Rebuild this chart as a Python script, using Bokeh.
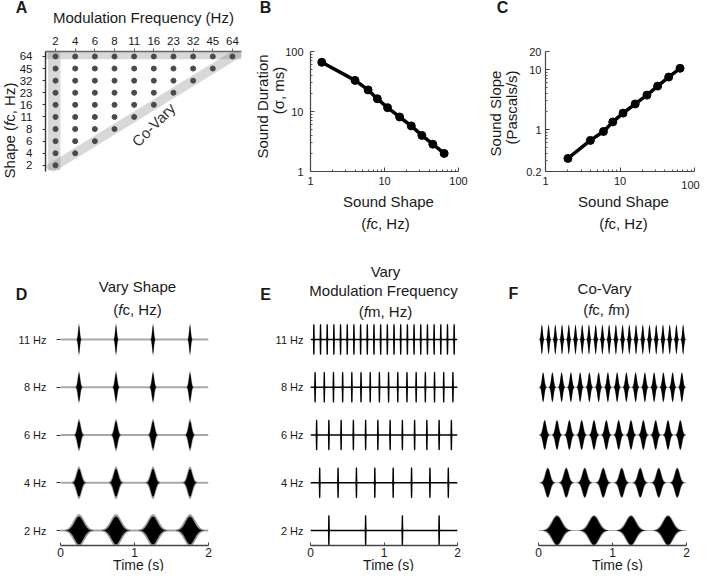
import numpy as np
from bokeh.plotting import figure
from bokeh.models import Label, Range1d, FixedTicker, CustomJSTickFormatter, GridBox
from bokeh.layouts import row
from bokeh.embed import file_html
from bokeh.resources import INLINE

FONT = "Liberation Sans"
TXT = "#1a1a1a"
CW, CH = 700, 571   # canvas size
DX, DY = 7, 7       # reference pixel -> canvas pixel offset

# ---------------- data ----------------
# Panel A: stimulus grid
mod_freqs = [2, 4, 6, 8, 11, 16, 23, 32, 45, 64]
shape_freqs = [2, 4, 6, 8, 11, 16, 23, 32, 45, 64]

# Panel B: sound duration vs sound shape
b_shape = [1.42, 4, 6, 8, 11, 16, 23, 32, 45, 64]
b_duration = [66, 33, 22.9, 16.3, 11.6, 8.1, 5.75, 4.0, 2.85, 2.0]

# Panel C: sound slope vs sound shape
c_shape = [2, 4, 6, 8, 11, 16, 23, 32, 45, 64]
c_slope = [0.33, 0.66, 0.93, 1.34, 1.88, 2.67, 3.75, 5.3, 7.5, 10.5]

# Panels D-F: example stimuli
row_freqs = [2, 4, 6, 8, 11]
row_labels = ["2 Hz", "4 Hz", "6 Hz", "8 Hz", "11 Hz"]
row_sigma_ms = [66, 33, 22.9, 16.3, 11.6]   # envelope width for each shape
fixed_fm = 2          # D: modulation frequency held at 2 Hz
fixed_sigma_ms = 2.0  # E: shape held at 64 Hz
time_ticks = [0, 1, 2]

# ---------------- helpers ----------------
W = {' ': 278, '(': 333, ')': 333, ',': 278, '-': 333, '/': 278, '.': 278,
     'A': 667, 'C': 722, 'D': 722, 'F': 611, 'H': 722, 'M': 833, 'P': 667,
     'S': 667, 'T': 611, 'V': 667, 'a': 556, 'c': 500, 'd': 556, 'e': 556,
     'f': 278, 'h': 556, 'i': 222, 'l': 222, 'm': 833, 'n': 556, 'o': 556,
     'p': 556, 'q': 556, 'r': 333, 's': 500, 't': 278, 'u': 556, 'y': 500,
     'z': 500}


def tw(s, size):
    return sum(W.get(ch, 556) for ch in s) * size / 1000.0


def make_fig(fig_left, fig_top, w, h, fl, fr, ft, fb, **kw):
    p = figure(width=w, height=h,
               min_border_left=fl - fig_left, min_border_right=fig_left + w - fr,
               min_border_top=ft - fig_top, min_border_bottom=fig_top + h - fb,
               toolbar_location=None, output_backend="svg", **kw)
    p.outline_line_color = None
    p.grid.visible = False
    p.background_fill_color = "white"
    p.border_fill_color = "white"
    return p


def style_axis(ax, size=11, line_color="#333333", lw=1.2, tin=0, tout=3,
               standoff=5):
    ax.axis_line_color = line_color
    ax.axis_line_width = lw
    ax.major_tick_line_color = line_color
    ax.major_tick_in = tin
    ax.major_tick_out = tout
    ax.minor_tick_line_color = None
    ax.major_label_text_font = FONT
    ax.major_label_text_font_size = f"{size}px"
    ax.major_label_text_color = TXT
    ax.major_label_standoff = standoff


fmt = CustomJSTickFormatter(code="return tick.toString()")

# transparent overlay carrying the free-standing texts
ov = figure(width=CW, height=CH, x_range=Range1d(0, CW), y_range=Range1d(0, CH),
            x_axis_location=None, y_axis_location=None, toolbar_location=None,
            output_backend="svg", min_border_left=0, min_border_right=0,
            min_border_top=0, min_border_bottom=0)
ov.grid.visible = False
ov.outline_line_color = None
ov.background_fill_color = None
ov.border_fill_color = None


def T(rx, ry, text, size=15, style="normal", align="center", angle=0.0, color=TXT):
    ov.add_layout(Label(x=rx - DX, y=CH - (ry - DY), text=text, text_font=FONT,
                        text_font_size=f"{size}px", text_font_style=style,
                        text_align=align, text_baseline="middle", angle=angle,
                        text_color=color))


def mixed(rx, ry, segs, size=15, vertical=False):
    total = sum(tw(s, size) for s, _ in segs)
    off = -total / 2
    for s, it in segs:
        style = "italic" if it else "normal"
        if vertical:
            T(rx, ry - off, s, size, style, align="left", angle=np.pi / 2)
        else:
            T(rx + off, ry, s, size, style, align="left")
        off += tw(s, size)


TOP0, MID, BOT = DY, 268, DY + CH          # row limits (reference px)
XL, XR = DX, DX + CW

# ---------------- Panel A ----------------
pA = make_fig(XL, TOP0, 258 - XL, MID - TOP0, 52, 248, 58, 253,
              x_range=Range1d(0.49, 10.46), y_range=Range1d(0.49, 10.41),
              x_axis_location="above")
n = len(mod_freqs)
idx = list(range(1, n + 1))
band_kw = dict(fill_color="#808080", fill_alpha=0.31, line_color=None)
pA.quad(left=1 - 0.38, right=1 + 0.25, bottom=1 - 0.38, top=10.41, **band_kw)
pA.quad(left=0.49, right=10.46, bottom=n - 0.24, top=10.41, **band_kw)
d = 0.233
a0, a1 = 1 - 0.35, n + 0.35
pA.patch([a0 - d, a0 + d, a1 + d, a1 - d], [a0 + d, a0 - d, a1 - d, a1 + d], **band_kw)
gx, gy = [], []
for j, m in enumerate(mod_freqs):
    for i, s in enumerate(shape_freqs):
        if s >= m:
            gx.append(j + 1)
            gy.append(i + 1)
pA.scatter(gx, gy, size=5, color="#4a4a4a")
pA.xaxis.ticker = FixedTicker(ticks=idx)
pA.xaxis.major_label_overrides = {i + 1: str(v) for i, v in enumerate(mod_freqs)}
pA.yaxis.ticker = FixedTicker(ticks=idx)
pA.yaxis.major_label_overrides = {i + 1: str(v) for i, v in enumerate(shape_freqs)}
style_axis(pA.xaxis[0], size=11.5, line_color="#666666", lw=1.6, tout=3, standoff=4)
style_axis(pA.yaxis[0], size=11.5, line_color="#333333", lw=1.4, tout=3, standoff=10)
pA.xaxis.axis_label = "Modulation Frequency (Hz)"
pA.xaxis.axis_label_text_font = FONT
pA.xaxis.axis_label_text_font_size = "15px"
pA.xaxis.axis_label_text_font_style = "normal"
pA.xaxis.axis_label_text_color = TXT
pA.xaxis.axis_label_standoff = 8
pA.add_layout(Label(x=5.98, y=4.36, text="Co-Vary", angle=np.pi / 4,
                    text_font=FONT, text_font_size="15px", text_color="#333333",
                    text_align="center", text_baseline="middle"))
T(28, 14, "A", 16, "bold")
mixed(15.5, 137, [("Shape (", False), ("f", True), ("c, Hz)", False)], 15, vertical=True)


# ---------------- Panels B, C ----------------
def log_axes(p, xt, xm, yt, ym, xstand, ystand):
    p.xaxis.ticker = FixedTicker(ticks=xt, minor_ticks=xm)
    p.yaxis.ticker = FixedTicker(ticks=yt, minor_ticks=ym)
    for ax, st in ((p.xaxis[0], xstand), (p.yaxis[0], ystand)):
        style_axis(ax, size=11, line_color="#444444", lw=1.2, tin=4, tout=0, standoff=st)
        ax.formatter = fmt
        ax.minor_tick_line_color = "#555555"
        ax.minor_tick_in = 2
        ax.minor_tick_out = 0


dec_minor = [2, 3, 4, 5, 6, 7, 8, 9, 20, 30, 40, 50, 60, 70, 80, 90]

pB = make_fig(258, TOP0, 230, MID - TOP0, 317, 465, 30, 178,
              x_axis_type="log", y_axis_type="log",
              x_range=Range1d(1, 100), y_range=Range1d(1, 100))
pB.line(b_shape, b_duration, line_width=3.5, color="black")
pB.scatter(b_shape, b_duration, size=8, color="black")
log_axes(pB, [1, 10, 100], dec_minor, [1, 10, 100], dec_minor, 5, 7)
T(272, 14, "B", 16, "bold")
T(269, 113, "Sound Duration", 15, angle=np.pi / 2)
T(285, 97, "(σ, ms)", 15, angle=np.pi / 2)
T(395, 208, "Sound Shape", 15)
mixed(392, 230, [("(", False), ("f", True), ("c, Hz)", False)], 15)

pC = make_fig(488, TOP0, XR - 488, MID - TOP0, 552, 701, 30, 179,
              x_axis_type="log", y_axis_type="log",
              x_range=Range1d(1, 100), y_range=Range1d(0.2, 20))
pC.line(c_shape, c_slope, line_width=3.5, color="black")
pC.scatter(c_shape, c_slope, size=8, color="black")
log_axes(pC, [1, 10, 100], dec_minor, [0.2, 1, 10, 20],
         [0.3, 0.4, 0.5, 0.6, 0.7, 0.8, 0.9, 2, 3, 4, 5, 6, 7, 8, 9], 5, 4)
pC.xaxis.major_label_overrides = {100: ""}
T(697, 191, "100", 11)
T(509, 14, "C", 16, "bold")
T(502, 120, "Sound Slope", 15, angle=np.pi / 2)
T(518, 114, "(Pascals/s)", 15, angle=np.pi / 2)
T(630, 208, "Sound Shape", 15)
mixed(630, 230, [("(", False), ("f", True), ("c, Hz)", False)], 15)

# ---------------- Panels D, E, F ----------------
ROW_TOP, ROW_BOT, AX_Y, FR_TOP = 346, 537, 552, 324
ROW_PX = (ROW_BOT - ROW_TOP) / (len(row_freqs) - 1)
Y1 = 1 + (ROW_BOT - FR_TOP) / ROW_PX
Y0 = 1 - (AX_Y - ROW_BOT) / ROW_PX


def pulse_patches(fm, sigma, amp, y0, nsig=4.0, npts=50):
    xs, ys = [], []
    k = 0
    while (k + 0.5) / fm < time_ticks[-1]:
        tk = (k + 0.5) / fm
        t = np.linspace(tk - nsig * sigma, tk + nsig * sigma, npts)
        e = amp * np.exp(-0.5 * ((t - tk) / sigma) ** 2)
        xs.append(np.concatenate([t, t[::-1]]).tolist())
        ys.append(np.concatenate([y0 + e, (y0 - e)[::-1]]).tolist())
        k += 1
    return xs, ys


def wave_fig(fig_left, fig_right, fl, fr):
    p = make_fig(fig_left, MID, fig_right - fig_left, BOT - MID, fl, fr, FR_TOP, AX_Y,
                 x_range=Range1d(time_ticks[0], time_ticks[-1]),
                 y_range=Range1d(Y0, Y1))
    p.xaxis.ticker = FixedTicker(ticks=time_ticks)
    style_axis(p.xaxis[0], size=12, line_color="#444444", lw=1.5, tin=3, tout=0, standoff=2)
    return p


rows_y = [i + 1 for i in range(len(row_freqs))]

# D: vary shape
pD = wave_fig(XL, 248, 67, 215)
for y0, sig in zip(rows_y, row_sigma_ms):
    pD.line([time_ticks[0], time_ticks[-1]], [y0, y0], line_color="#a8a8a8", line_width=2)
    xs, ys = pulse_patches(fixed_fm, sig / 1000 * 1.12, 0.34, y0)
    pD.patches(xs, ys, fill_color="#9a9a9a", line_color=None)
    xs, ys = pulse_patches(fixed_fm, sig / 1000 * 0.9, 0.29, y0)
    pD.patches(xs, ys, fill_color="black", line_color=None)
pD.yaxis.ticker = FixedTicker(ticks=rows_y)
pD.yaxis.major_label_overrides = {y: l for y, l in zip(rows_y, row_labels)}
style_axis(pD.yaxis[0], size=11, line_color="#333333", lw=1.2, tout=4, standoff=10)
pD.yaxis[0].axis_line_color = None
T(28, 301, "D", 16, "bold")
T(144, 293, "Vary Shape", 15)
mixed(144, 316, [("(", False), ("f", True), ("c, Hz)", False)], 15)
T(145, 571, "Time (s)", 14)

# E: vary modulation frequency
pE = wave_fig(248, 484, 317, 464)
for y0, fm in zip(rows_y, row_freqs):
    pE.line([time_ticks[0], time_ticks[-1]], [y0, y0], line_color="black", line_width=1.3)
    xs, ys = pulse_patches(fm, fixed_sigma_ms / 1000, 0.31, y0)
    pE.patches(xs, ys, fill_color="black", line_color="black", line_width=1.3)
pE.yaxis.ticker = FixedTicker(ticks=rows_y)
pE.yaxis.major_label_overrides = {y: l for y, l in zip(rows_y, row_labels)}
style_axis(pE.yaxis[0], size=11, line_color="#333333", lw=1.2, tout=0, standoff=7)
pE.yaxis[0].axis_line_color = None
pE.yaxis[0].major_tick_line_color = None
T(272, 301, "E", 16, "bold")
T(392, 278, "Vary", 15)
T(390, 297, "Modulation Frequency", 15)
mixed(392, 318, [("(", False), ("f", True), ("m, Hz)", False)], 15)
T(395, 571, "Time (s)", 14)

# F: co-vary
pF = wave_fig(484, XR, 545, 693)
for y0, fm, sig in zip(rows_y, row_freqs, row_sigma_ms):
    pF.line([time_ticks[0], time_ticks[-1]], [y0, y0], line_color="#b5b5b5", line_width=1)
    xs, ys = pulse_patches(fm, sig / 1000 * 1.08, 0.32, y0)
    pF.patches(xs, ys, fill_color="#8a8a8a", line_color=None)
    xs, ys = pulse_patches(fm, sig / 1000 * 0.92, 0.30, y0)
    pF.patches(xs, ys, fill_color="black", line_color=None)
pF.yaxis.visible = False
T(520, 300, "F", 16, "bold")
T(611, 295, "Co-Vary", 15)
mixed(613, 316, [("(", False), ("f", True), ("c, ", False), ("f", True), ("m)", False)], 15)
T(624, 571, "Time (s)", 14)

top = row(pA, pB, pC)
bottom = row(pD, pE, pF)
layout = GridBox(children=[(top, 0, 0), (bottom, 1, 0), (ov, 0, 0, 2, 1)], spacing=0)
open("out.html", "w").write(file_html(layout, INLINE))
